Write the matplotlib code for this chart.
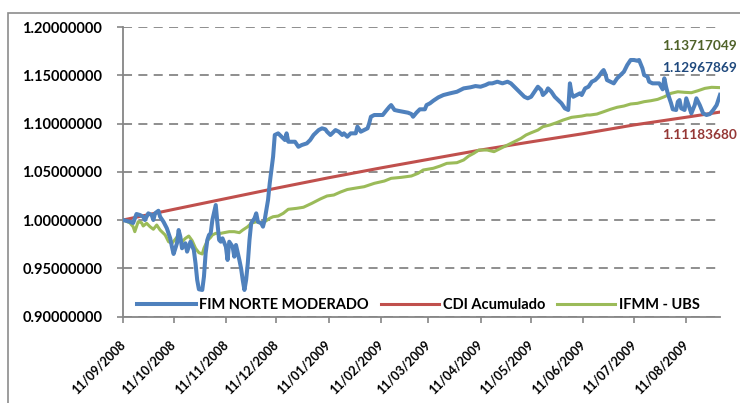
import numpy as np
import matplotlib
matplotlib.use('Agg')
import matplotlib.pyplot as plt
import matplotlib.dates as mdates
from matplotlib.patches import Rectangle

plt.rcParams['font.family'] = ['Lato', 'DejaVu Sans']
plt.rcParams['font.weight'] = 'bold'

start = np.datetime64('2008-09-11')

# FIM NORTE MODERADO (days after 11/09/2008, quota value)
fim_days = [0, 4, 6, 8, 10, 12, 13, 15, 17, 18, 19, 21, 22, 24, 26, 28, 29, 30, 32, 33,
            34, 35, 37, 38, 39, 40, 42, 43, 44, 45, 47, 48, 49, 50, 51, 52, 53, 55, 56, 57,
            58, 59, 61, 62, 63, 65, 66, 67, 69, 70, 71, 72, 73, 74, 75, 76, 78, 79, 80, 82,
            83, 84, 86, 87, 89, 90, 92, 94, 96, 97, 98, 100, 102, 104, 106, 109, 111, 113, 116, 118,
            120, 121, 123, 125, 126, 128, 130, 131, 133, 135, 138, 139, 141, 143, 145, 146, 147, 149, 151, 154,
            156, 158, 159, 161, 163, 166, 169, 171, 172, 174, 176, 179, 180, 182, 184, 187, 190, 194, 198, 202,
            206, 209, 212, 215, 217, 219, 222, 225, 228, 230, 232, 235, 238, 240, 242, 244, 246, 248, 249, 251,
            252, 254, 256, 258, 260, 262, 264, 265, 266, 267, 269, 271, 272, 274, 276, 278, 280, 282, 284, 285,
            286, 287, 289, 291, 293, 295, 297, 299, 301, 303, 305, 306, 308, 309, 311, 312, 314, 316, 318, 320,
            321, 322, 323, 325, 326, 328, 329, 330, 331, 333, 334, 336, 337, 339, 340, 342, 344, 346, 348, 350,
            352, 354]
fim_vals = [1.0000, 0.9982, 0.9969, 1.0062, 1.0052, 1.0034, 1.0000, 1.0069, 1.0052, 1.0000,
            1.0069, 1.0096, 1.0034, 0.9982, 0.9914, 0.9810, 0.9723, 0.9648, 0.9759, 0.9896,
            0.9827, 0.9707, 0.9759, 0.9672, 0.9723, 0.9775, 0.9689, 0.9551, 0.9378, 0.9282,
            0.9275, 0.9413, 0.9655, 0.9793, 0.9845, 0.9862, 1.0000, 1.0155, 0.9966, 0.9793,
            0.9775, 0.9810, 0.9723, 0.9586, 0.9775, 0.9723, 0.9620, 0.9741, 0.9586, 0.9500,
            0.9378, 0.9275, 0.9378, 0.9551, 0.9793, 0.9966, 1.0018, 1.0069, 0.9982, 0.9966,
            0.9931, 1.0000, 1.0207, 1.0380, 1.0656, 1.0881, 1.0898, 1.0863, 1.0829, 1.0898,
            1.0811, 1.0811, 1.0811, 1.0759, 1.0777, 1.0794, 1.0829, 1.0881, 1.0932, 1.0950,
            1.0940, 1.0915, 1.0881, 1.0915, 1.0932, 1.0915, 1.0881, 1.0898, 1.0863, 1.0898,
            1.0898, 1.0967, 1.0915, 1.0932, 1.0950, 1.1002, 1.1070, 1.1088, 1.1088, 1.1088,
            1.1132, 1.1174, 1.1191, 1.1140, 1.1132, 1.1122, 1.1112, 1.1098, 1.1070, 1.1112,
            1.1147, 1.1147, 1.1191, 1.1209, 1.1236, 1.1271, 1.1295, 1.1313, 1.1329, 1.1364,
            1.1375, 1.1388, 1.1381, 1.1399, 1.1416, 1.1416, 1.1433, 1.1416, 1.1433, 1.1416,
            1.1381, 1.1329, 1.1277, 1.1261, 1.1277, 1.1329, 1.1381, 1.1347, 1.1295, 1.1329,
            1.1364, 1.1329, 1.1277, 1.1243, 1.1209, 1.1157, 1.1140, 1.1416, 1.1313, 1.1277,
            1.1295, 1.1313, 1.1295, 1.1364, 1.1381, 1.1433, 1.1450, 1.1485, 1.1536, 1.1554,
            1.1513, 1.1450, 1.1433, 1.1416, 1.1468, 1.1502, 1.1536, 1.1606, 1.1658, 1.1658,
            1.1650, 1.1658, 1.1572, 1.1502, 1.1485, 1.1433, 1.1416, 1.1416, 1.1416, 1.1354,
            1.1468, 1.1381, 1.1313, 1.1209, 1.1147, 1.1140, 1.1226, 1.1243, 1.1157, 1.1140,
            1.1261, 1.1157, 1.1105, 1.1191, 1.1261, 1.1191, 1.1105, 1.1088, 1.1098, 1.1140,
            1.1191, 1.12967869]

# CDI Acumulado
cdi_days = [0, 30, 61, 91, 122, 153, 181, 212, 242, 273, 303, 334, 354]
cdi_vals = [1.0000, 1.0110, 1.0222, 1.0330, 1.0438, 1.0540, 1.0628, 1.0725, 1.0810,
            1.0895, 1.0985, 1.1065, 1.11183680]

# IFMM - UBS
ifmm_days = [0, 4, 6, 7, 9, 11, 12, 14, 16, 18, 20, 22, 25, 27, 29, 31, 33, 35, 37, 39,
             41, 43, 45, 47, 48, 50, 52, 53, 55, 58, 60, 63, 66, 69, 71, 74, 76, 79, 81, 84,
             87, 89, 92, 95, 98, 103, 107, 112, 117, 121, 125, 129, 133, 137, 143, 149, 155, 159, 165, 171,
             175, 178, 184, 188, 192, 198, 202, 205, 208, 211, 216, 220, 224, 228, 232, 236, 239, 242, 246, 249,
             253, 257, 261, 266, 272, 275, 277, 281, 285, 289, 293, 297, 301, 305, 309, 313, 317, 321, 325, 329,
             333, 337, 341, 345, 349, 354]
ifmm_vals = [1.0000, 0.9972, 0.9931, 0.9879, 0.9982, 0.9972, 0.9938, 0.9966, 0.9931, 0.9904,
             0.9948, 0.9896, 0.9845, 0.9775, 0.9759, 0.9800, 0.9845, 0.9775, 0.9810, 0.9834,
             0.9786, 0.9707, 0.9661, 0.9648, 0.9707, 0.9786, 0.9821, 0.9845, 0.9862, 0.9862,
             0.9869, 0.9879, 0.9879, 0.9869, 0.9896, 0.9931, 0.9966, 0.9982, 0.9972, 0.9982,
             1.0018, 1.0034, 1.0041, 1.0069, 1.0111, 1.0121, 1.0132, 1.0173, 1.0218, 1.0249,
             1.0259, 1.0290, 1.0316, 1.0328, 1.0345, 1.0380, 1.0404, 1.0432, 1.0442, 1.0456,
             1.0484, 1.0518, 1.0536, 1.0559, 1.0587, 1.0594, 1.0622, 1.0663, 1.0691, 1.0725,
             1.0725, 1.0708, 1.0743, 1.0777, 1.0811, 1.0846, 1.0881, 1.0904, 1.0932, 1.0967,
             1.0984, 1.1008, 1.1036, 1.1064, 1.1077, 1.1088, 1.1088, 1.1098, 1.1122, 1.1147,
             1.1168, 1.1181, 1.1202, 1.1209, 1.1226, 1.1236, 1.1250, 1.1277, 1.1313, 1.1329,
             1.1323, 1.1319, 1.1340, 1.1364, 1.1375, 1.13717049]


def to_dates(days):
    return start + np.array(days).astype('timedelta64[D]')


fim_dates = to_dates(fim_days)
cdi_dates = to_dates(cdi_days)
ifmm_dates = to_dates(ifmm_days)

blue = '#4F81BD'
red = '#C0504D'
green = '#9BBB59'
axis_gray = '#868686'

fig = plt.figure(figsize=(7.4, 4.03), dpi=100)
fig.patches.append(Rectangle((8 / 740, -0.1), 2, 1 - 13 / 403 + 0.1, transform=fig.transFigure,
                             fill=False, edgecolor='#8C8C8C', linewidth=1.2))
ax = fig.add_axes([123 / 740, 1 - 316.5 / 403, (720 - 123) / 740, (316.5 - 27) / 403])

ax.plot(fim_dates, fim_vals, color=blue, linewidth=2.9, label='FIM NORTE MODERADO', zorder=4)
ax.plot(cdi_dates, cdi_vals, color=red, linewidth=2.2, label='CDI Acumulado', zorder=3)
ax.plot(ifmm_dates, ifmm_vals, color=green, linewidth=2.2, label='IFMM - UBS', zorder=3)

ax.set_ylim(0.9, 1.2)
ax.set_xlim(fim_dates[0], fim_dates[-1])
ax.set_yticks(np.arange(0.90, 1.2001, 0.05))
ax.yaxis.set_major_formatter(plt.FuncFormatter(lambda v, p: f'{v:.8f}'))
ax.xaxis.set_major_locator(mdates.MonthLocator(bymonthday=11))
ax.xaxis.set_major_formatter(mdates.DateFormatter('%d/%m/%Y'))

ax.grid(axis='y', color=axis_gray, linestyle=(0, (5, 3.5)), linewidth=1.3)
ax.set_axisbelow(True)
for s in ['top', 'right']:
    ax.spines[s].set_visible(False)
for s in ['left', 'bottom']:
    ax.spines[s].set_color(axis_gray)
    ax.spines[s].set_linewidth(1.3)

ax.tick_params(axis='y', length=4, width=1.2, color=axis_gray, pad=11, labelsize=10.5)
ax.tick_params(axis='x', length=4, width=1.2, color=axis_gray, pad=15, labelsize=9)
for lab in ax.get_xticklabels():
    lab.set_rotation(45)
    lab.set_ha('right')
    lab.set_va('center')
    lab.set_rotation_mode('anchor')
for lab in ax.get_xticklabels() + ax.get_yticklabels():
    lab.set_fontweight('bold')

leg = ax.legend(loc='lower center', bbox_to_anchor=(0.495, -0.03), ncol=3, frameon=False,
                handlelength=4.0, handletextpad=0.25, columnspacing=0.8,
                prop={'weight': 'bold', 'size': 10.5})

ax.annotate(f'{ifmm_vals[-1]:.8f}', xy=(ifmm_dates[-1], ifmm_vals[-1]), xytext=(-42, 30),
            textcoords='offset points', ha='left', va='center', color='#4F6228',
            fontsize=9.8, fontweight='bold', annotation_clip=False)
ax.annotate(f'{fim_vals[-1]:.8f}', xy=(fim_dates[-1], fim_vals[-1]), xytext=(-42, 19.5),
            textcoords='offset points', ha='left', va='center', color='#1F497D',
            fontsize=9.8, fontweight='bold', annotation_clip=False)
ax.annotate(f'{cdi_vals[-1]:.8f}', xy=(cdi_dates[-1], cdi_vals[-1]), xytext=(-42, -16.5),
            textcoords='offset points', ha='left', va='center', color='#953735',
            fontsize=9.8, fontweight='bold', annotation_clip=False)

fig.savefig('out.png', dpi=100)
